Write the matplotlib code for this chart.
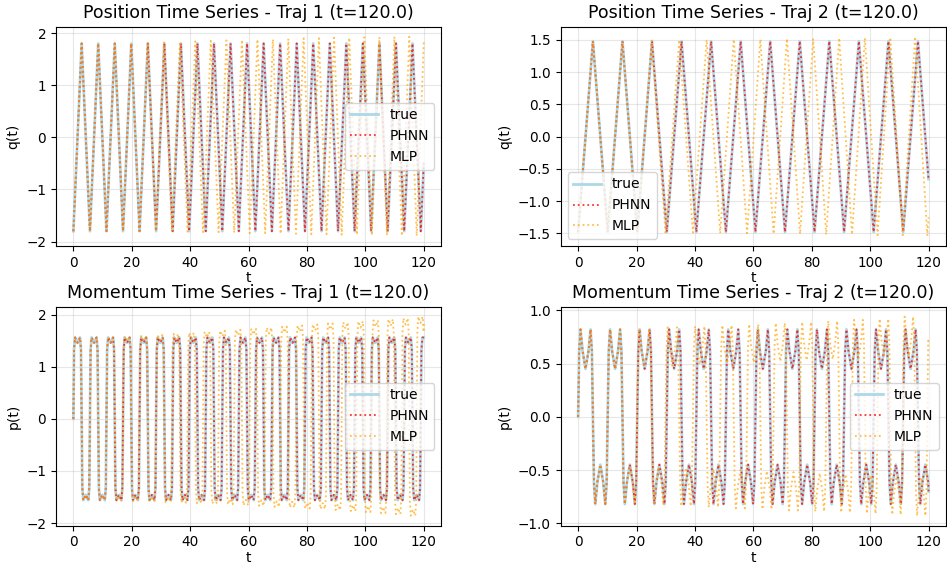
import numpy as np
import matplotlib.pyplot as plt

T_END = 120.0

# --- Trajectory 1: turning points of q (trough/peak times) ---
t1_turn = [0.00, 2.83, 5.67, 8.50, 11.33, 14.16, 17.00, 19.83, 22.66, 25.49, 28.33,
           31.16, 33.99, 36.82, 39.66, 42.49, 45.32, 48.15, 50.99, 53.82, 56.65,
           59.48, 62.32, 65.15, 67.98, 70.81, 73.65, 76.48, 79.31, 82.14, 84.98,
           87.81, 90.64, 93.47, 96.31, 99.14, 101.97, 104.80, 107.64, 110.47,
           113.30, 116.13, 118.97]
q1_turn = [-1.80, 1.80, -1.80, 1.80, -1.80, 1.80, -1.80, 1.80, -1.80, 1.80, -1.80,
           1.80, -1.80, 1.80, -1.80, 1.80, -1.80, 1.80, -1.80, 1.80, -1.80,
           1.80, -1.80, 1.80, -1.80, 1.80, -1.80, 1.80, -1.80, 1.80, -1.80,
           1.80, -1.80, 1.80, -1.80, 1.80, -1.80, 1.80, -1.80, 1.80,
           -1.80, 1.80, -1.80]
q1_end = -0.50
# momentum plateau height for each half swing
p1_amp = [1.56, -1.56, 1.56, -1.56, 1.56, -1.56, 1.56, -1.56, 1.56, -1.56, 1.56,
          -1.56, 1.56, -1.56, 1.56, -1.56, 1.56, -1.56, 1.56, -1.56, 1.56,
          -1.56, 1.56, -1.56, 1.56, -1.56, 1.56, -1.56, 1.56, -1.56, 1.56,
          -1.56, 1.56, -1.56, 1.56, -1.56, 1.56, -1.56, 1.56, -1.56,
          1.56, -1.56, 1.56]
p1_end = 1.56

# MLP rollout, trajectory 1 (runs ahead of the true motion)
tm1_turn = [0.00, 2.83, 5.67, 8.50, 11.33, 14.16, 17.00, 19.83, 22.66, 25.49, 28.27,
            31.05, 33.75, 36.45, 39.10, 41.75, 44.40, 47.05, 49.72, 52.40, 55.07,
            57.73, 60.39, 63.04, 65.69, 68.33, 70.97, 73.60, 76.23, 78.85, 81.47,
            84.08, 86.69, 89.29, 91.89, 94.48, 97.07, 99.65, 102.23, 104.80,
            107.37, 109.93, 112.49, 115.04, 117.59]
qm1_turn = [-1.80, 1.80, -1.80, 1.80, -1.80, 1.80, -1.80, 1.80, -1.80, 1.81, -1.80,
            1.82, -1.81, 1.83, -1.81, 1.84, -1.82, 1.85, -1.82, 1.86, -1.83,
            1.87, -1.84, 1.88, -1.84, 1.88, -1.85, 1.89, -1.85, 1.90, -1.86,
            1.90, -1.86, 1.91, -1.87, 1.91, -1.87, 1.92, -1.88, 1.92,
            -1.88, 1.93, -1.89, 1.93, -1.89]
qm1_end = 1.85
pm1_amp = [1.56, -1.56, 1.56, -1.56, 1.57, -1.57, 1.58, -1.58, 1.59, -1.59,
           1.61, -1.60, 1.63, -1.61, 1.65, -1.62, 1.67, -1.63, 1.69, -1.64,
           1.71, -1.66, 1.73, -1.67, 1.75, -1.69, 1.77, -1.70, 1.79, -1.72,
           1.81, -1.73, 1.83, -1.75, 1.85, -1.77, 1.87, -1.79, 1.89, -1.81,
           1.91, -1.83, 1.93, -1.86, 1.96]
pm1_end = 1.85

# --- Trajectory 2 ---
t2_turn = [0.00, 5.06, 10.12, 15.18, 20.24, 25.30, 30.36, 35.42, 40.48, 45.54,
           50.60, 55.66, 60.72, 65.78, 70.84, 75.90, 80.96, 86.02, 91.08, 96.14,
           101.20, 106.26, 111.32, 116.38]
q2_turn = [-1.48, 1.48, -1.48, 1.48, -1.48, 1.48, -1.48, 1.48, -1.48, 1.48,
           -1.48, 1.48, -1.48, 1.48, -1.48, 1.48, -1.48, 1.48, -1.48, 1.48,
           -1.48, 1.48, -1.48, 1.48]
q2_end = -0.66
p2_amp = [0.82, -0.82, 0.82, -0.82, 0.82, -0.82, 0.82, -0.82, 0.82, -0.82,
          0.82, -0.82, 0.82, -0.82, 0.82, -0.82, 0.82, -0.82, 0.82, -0.82,
          0.82, -0.82, 0.82, -0.82]
p2_dip = [0.45, -0.45, 0.45, -0.45, 0.45, -0.45, 0.45, -0.45, 0.45, -0.45,
          0.45, -0.45, 0.45, -0.45, 0.45, -0.45, 0.45, -0.45, 0.45, -0.45,
          0.45, -0.45, 0.45, -0.45]
p2_end = -0.70

tm2_turn = [0.00, 5.06, 10.12, 15.18, 20.20, 25.20, 29.90, 34.60, 39.30, 44.00,
            48.65, 53.30, 57.85, 62.40, 66.95, 71.50, 76.00, 80.50, 84.95, 89.40,
            93.80, 98.20, 102.55, 106.90, 111.15, 115.40, 119.60]
qm2_turn = [-1.48, 1.48, -1.48, 1.48, -1.48, 1.49, -1.49, 1.50, -1.49, 1.50,
            -1.50, 1.51, -1.50, 1.51, -1.51, 1.52, -1.51, 1.52, -1.52, 1.53,
            -1.52, 1.53, -1.53, 1.54, -1.53, 1.55, -1.54]
qm2_end = -1.25
pm2_amp = [0.82, -0.82, 0.82, -0.82, 0.83, -0.83, 0.84, -0.84, 0.85, -0.85,
           0.86, -0.86, 0.87, -0.87, 0.88, -0.88, 0.89, -0.89, 0.90, -0.90,
           0.91, -0.91, 0.92, -0.92, 0.94, -0.93, 0.97]
pm2_dip = [0.45, -0.45, 0.45, -0.46, 0.47, -0.47, 0.48, -0.48, 0.49, -0.49,
           0.50, -0.50, 0.51, -0.51, 0.52, -0.52, 0.53, -0.53, 0.54, -0.54,
           0.55, -0.55, 0.56, -0.56, 0.57, -0.57, 0.58]
pm2_end = 0.70

# shape of one half swing of p (fraction of swing, weight of peak, weight of dip)
SHAPE1 = [(0.0, 0.0, 0.0), (0.08, 0.85, 0.0), (0.2, 1.0, 0.0), (0.5, 0.0, 0.935),
          (0.8, 1.0, 0.0), (0.92, 0.85, 0.0)]
SHAPE2 = [(0.0, 0.0, 0.0), (0.07, 0.75, 0.0), (0.16, 1.0, 0.0), (0.3, 0.45, 0.55),
          (0.5, 0.0, 1.0), (0.7, 0.45, 0.55), (0.84, 1.0, 0.0), (0.93, 0.75, 0.0)]


def q_series(turn_t, turn_q, q_end):
    return np.array(turn_t + [T_END]), np.array(turn_q + [q_end])


def p_series(turn_t, amp, dip, shape, p_end):
    ts, ps = [], []
    for i, t0 in enumerate(turn_t):
        if i + 1 < len(turn_t):
            dur = turn_t[i + 1] - t0
        else:
            dur = t0 - turn_t[i - 1]
        a = amp[i]
        d = dip[i] if dip is not None else a
        for f, wa, wd in shape:
            t = t0 + f * dur
            if t >= T_END:
                break
            ts.append(t)
            ps.append(wa * a + wd * d)
    ts.append(T_END)
    ps.append(p_end)
    return np.array(ts), np.array(ps)


panels = [
    ('Position Time Series - Traj 1 (t=120.0)', 'q(t)', 'center right',
     q_series(t1_turn, q1_turn, q1_end), q_series(tm1_turn, qm1_turn, qm1_end)),
    ('Position Time Series - Traj 2 (t=120.0)', 'q(t)', 'lower left',
     q_series(t2_turn, q2_turn, q2_end), q_series(tm2_turn, qm2_turn, qm2_end)),
    ('Momentum Time Series - Traj 1 (t=120.0)', 'p(t)', 'center right',
     p_series(t1_turn, p1_amp, None, SHAPE1, p1_end),
     p_series(tm1_turn, pm1_amp, None, SHAPE1, pm1_end)),
    ('Momentum Time Series - Traj 2 (t=120.0)', 'p(t)', 'center right',
     p_series(t2_turn, p2_amp, p2_dip, SHAPE2, p2_end),
     p_series(tm2_turn, pm2_amp, pm2_dip, SHAPE2, pm2_end)),
]

fig = plt.figure(figsize=(9.47, 5.69), dpi=100)
boxes = [[0.059, 0.568, 0.407, 0.385], [0.592, 0.568, 0.407, 0.385],
         [0.059, 0.076, 0.407, 0.385], [0.592, 0.076, 0.407, 0.385]]

for box, (title, ylab, loc, true_s, mlp_s) in zip(boxes, panels):
    ax = fig.add_axes(box)
    ax.plot(true_s[0], true_s[1], color='lightblue', lw=2, label='true')
    ax.plot(true_s[0], true_s[1], color='red', ls=':', lw=1.3, alpha=0.8, label='PHNN')
    ax.plot(mlp_s[0], mlp_s[1], color='orange', ls=':', lw=1.3, alpha=0.7, label='MLP')
    ax.set_title(title, fontsize=12.5)
    ax.set_xlabel('t', fontsize=10, labelpad=1)
    ax.set_ylabel(ylab, fontsize=10)
    ax.tick_params(labelsize=9.8)
    ax.grid(True, alpha=0.3)
    ax.legend(loc=loc, fontsize=10)

fig.savefig('out.png', dpi=100)
